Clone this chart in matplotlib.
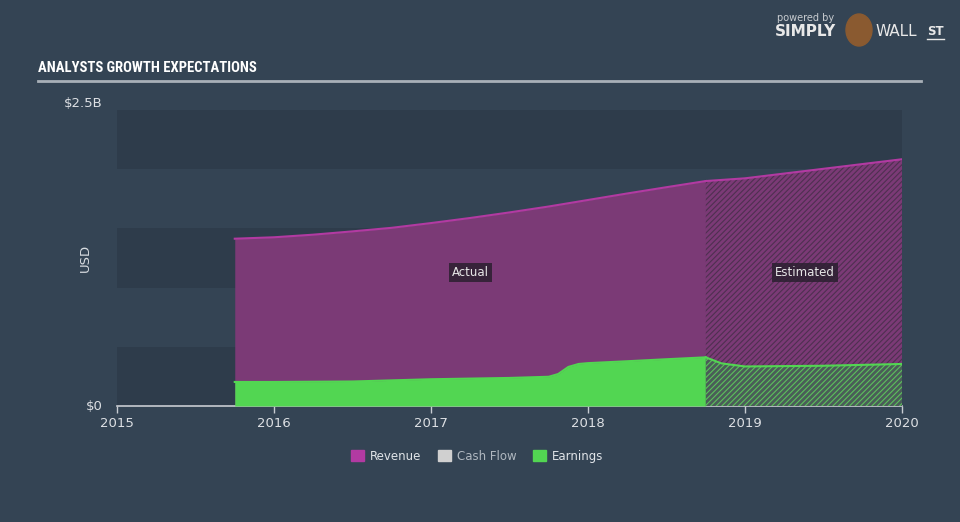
import numpy as np
import matplotlib
matplotlib.use('Agg')
import matplotlib.pyplot as plt
from matplotlib import font_manager

# revenue / earnings in $B, x in fractional years
rev_x = [2015.75, 2016.0, 2016.25, 2016.5, 2016.75, 2017.0, 2017.25, 2017.5,
         2017.75, 2018.0, 2018.25, 2018.5, 2018.75]
rev_y = [1.413, 1.425, 1.447, 1.475, 1.505, 1.545, 1.588, 1.635,
         1.685, 1.740, 1.795, 1.848, 1.900]
rev_est_x = [2018.75, 2019.0, 2020.0]
rev_est_y = [1.900, 1.923, 2.084]

earn_x = [2015.75, 2016.0, 2016.5, 2017.0, 2017.5, 2017.75, 2017.81, 2017.875,
          2017.94, 2018.0, 2018.25, 2018.5, 2018.75]
earn_y = [0.203, 0.203, 0.207, 0.226, 0.237, 0.247, 0.27, 0.33,
          0.355, 0.362, 0.378, 0.395, 0.411]
earn_est_x = [2018.75, 2018.85, 2019.0, 2019.5, 2020.0]
earn_est_y = [0.411, 0.36, 0.334, 0.340, 0.355]

years = [2015, 2016, 2017, 2018, 2019, 2020]
legend_labels = ['Revenue', 'Cash Flow', 'Earnings']

bg = '#344454'
dark_band = '#2e3c4b'
purple_fill = '#7b3a76'
purple_line = '#b23aa2'
green = '#52d652'


# condensed font for the header, if one is around
def pick_font(names):
    for n in names:
        try:
            font_manager.findfont(font_manager.FontProperties(family=n),
                                  fallback_to_default=False)
            return n
        except Exception:
            pass
    return None


narrow = pick_font(['DejaVu Sans Condensed', 'Liberation Sans Narrow', 'Roboto Condensed'])

fig = plt.figure(figsize=(9.6, 5.22), dpi=100, facecolor=bg)
ax = fig.add_axes([117 / 960, 1 - 406 / 522, 785 / 960, 296 / 522])
ax.set_facecolor(bg)
ax.set_xlim(2015, 2020)
ax.set_ylim(0, 2.5)

for lo in [0, 1.0, 2.0]:
    ax.axhspan(lo, lo + 0.5, color=dark_band, lw=0, zorder=0)

# actual
ax.fill_between(rev_x, 0, rev_y, color=purple_fill, lw=0, zorder=2)
ax.plot(rev_x, rev_y, color=purple_line, lw=1.5, zorder=3)
ax.fill_between(earn_x, 0, earn_y, color=green, lw=0, zorder=4)
ax.plot(earn_x, earn_y, color=green, lw=1.5, zorder=5)

# estimated (hatched)
plt.rcParams['hatch.linewidth'] = 0.8
ax.fill_between(rev_est_x, 0, rev_est_y, facecolor=purple_fill, edgecolor='#4e3050',
                hatch='//////', lw=0, zorder=2)
ax.plot(rev_est_x, rev_est_y, color=purple_line, lw=1.5, zorder=3)
ax.fill_between(earn_est_x, 0, earn_est_y, facecolor='#4a5d58', edgecolor='#5cc05c',
                hatch='//////', lw=0, zorder=4)
ax.plot(earn_est_x, earn_est_y, color=green, lw=1.5, zorder=5)

box = dict(boxstyle='square,pad=0.25', fc='#2b2030', ec='none', alpha=0.85)
ax.text(2017.25, 1.13, 'Actual', color='#e8e8e8', fontsize=8.5, ha='center', va='center',
        bbox=box, zorder=6)
ax.text(2019.38, 1.13, 'Estimated', color='#e8e8e8', fontsize=8.5, ha='center', va='center',
        bbox=box, zorder=6)

for s in ['top', 'right', 'left']:
    ax.spines[s].set_visible(False)
ax.spines['bottom'].set_color('#c8ccd2')
ax.spines['bottom'].set_linewidth(1.2)
ax.set_xticks(years)
ax.set_xticklabels([str(y) for y in years])
ax.tick_params(axis='x', colors='#c8ccd2', labelcolor='#dde0e4', labelsize=9.5,
               length=5, width=1, direction='out', pad=3)
ax.set_yticks([0, 2.5])
ax.set_yticklabels(['$0', '$2.5B'])
ax.tick_params(axis='y', length=0, labelcolor='#dde0e4', labelsize=9.5, pad=10)
ylabs = ax.get_yticklabels()
ylabs[0].set_va('center')
ylabs[1].set_va('bottom')
ax.set_ylabel('USD', color='#d8dce0', fontsize=9.5)
ax.yaxis.set_label_coords(-0.032, 0.5)

# header
title_kw = dict(color='white', fontweight='bold', va='center')
if narrow:
    fig.text(38 / 960, 1 - 68 / 522, 'ANALYSTS GROWTH EXPECTATIONS', fontsize=10.5,
             family=narrow, **title_kw)
else:
    fig.text(38 / 960, 1 - 68 / 522, 'ANALYSTS GROWTH EXPECTATIONS', fontsize=9.5,
             **title_kw)
fig.add_artist(plt.Line2D([38 / 960, 921 / 960], [1 - 81 / 522, 1 - 81 / 522],
                          color='#a8b0b8', lw=2))
fig.text(777 / 960, 1 - 18 / 522, 'powered by', color='#c8ccd0', fontsize=7, va='center')
fig.text(775 / 960, 1 - 32 / 522, 'SIMPLY', color='#e8e8e8', fontsize=11,
         fontweight='bold', va='center')
fig.text(876 / 960, 1 - 32 / 522, 'WALL', color='#e8e8e8', fontsize=11, va='center')
fig.text(927 / 960, 1 - 31 / 522, 'ST', color='#e8e8e8', fontsize=8.5,
         fontweight='bold', va='center')
fig.add_artist(plt.Line2D([927 / 960, 944 / 960], [1 - 39 / 522, 1 - 39 / 522],
                          color='#e8e8e8', lw=1))
fig.patches.append(matplotlib.patches.Ellipse((859 / 960, 1 - 30 / 522), 26 / 960, 32 / 522,
                                              color='#8a5a30', transform=fig.transFigure))

# legend
handles = [matplotlib.patches.Patch(color=c) for c in [purple_line, '#d0d0d0', green]]
leg = fig.legend(handles, legend_labels, loc='center', bbox_to_anchor=(0.497, 1 - 456 / 522),
                 ncol=3, frameon=False, fontsize=8.5, handlelength=1.1, handleheight=1.0,
                 columnspacing=1.4, handletextpad=0.5)
for t, c in zip(leg.get_texts(), ['#e0e4e8', '#b0b8c0', '#e0e4e8']):
    t.set_color(c)

fig.savefig('out.png', dpi=100, facecolor=bg)
